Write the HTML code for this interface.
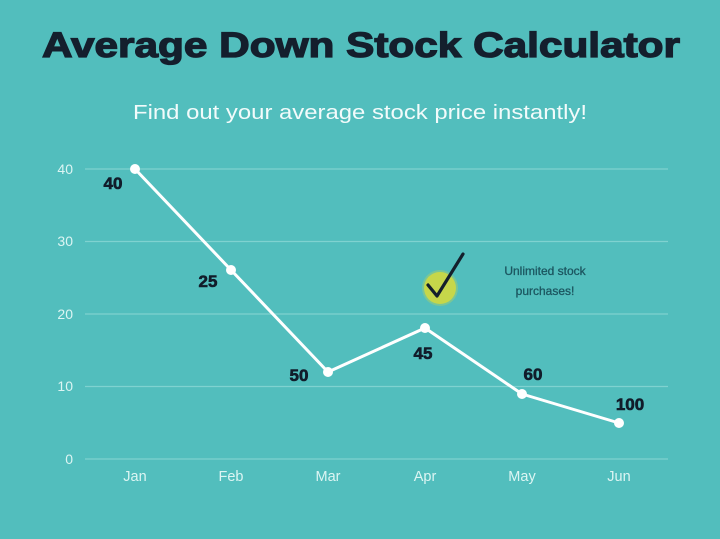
<!DOCTYPE html>
<html><head><meta charset="utf-8">
<style>
html,body{margin:0;padding:0;background:#52bebd;}
svg{display:block;}
</style></head>
<body>
<svg width="720" height="539" viewBox="0 0 720 539" xmlns="http://www.w3.org/2000/svg">
<rect width="720" height="539" fill="#52bebd"/>
<text x="42" y="57" font-family="Liberation Sans, sans-serif" font-weight="bold" font-size="35" fill="#141f2d" stroke="#141f2d" stroke-width="1.3" textLength="638" lengthAdjust="spacingAndGlyphs">Average Down Stock Calculator</text>
<text x="133" y="119" font-family="Liberation Sans, sans-serif" font-size="20" fill="#f2fbfb" textLength="454" lengthAdjust="spacingAndGlyphs">Find out your average stock price instantly!</text>
<g stroke="#7fd2d0" stroke-width="1.2">
<line x1="85" y1="169" x2="668" y2="169"/>
<line x1="85" y1="241.5" x2="668" y2="241.5"/>
<line x1="85" y1="314" x2="668" y2="314"/>
<line x1="85" y1="386.5" x2="668" y2="386.5"/>
<line x1="85" y1="459" x2="668" y2="459"/>
</g>
<g font-family="Liberation Sans, sans-serif" font-size="14" fill="#dcf5f3" text-anchor="end">
<text x="73" y="174">40</text>
<text x="73" y="246">30</text>
<text x="73" y="319">20</text>
<text x="73" y="391">10</text>
<text x="73" y="464">0</text>
</g>
<g font-family="Liberation Sans, sans-serif" font-size="14.5" fill="#dcf5f3" text-anchor="middle">
<text x="135" y="481">Jan</text>
<text x="231" y="481">Feb</text>
<text x="328" y="481">Mar</text>
<text x="425" y="481">Apr</text>
<text x="522" y="481">May</text>
<text x="619" y="481">Jun</text>
</g>
<polyline points="135,169 231,270 328,372 425,328 522,394 619,423" fill="none" stroke="#ffffff" stroke-width="3" stroke-linejoin="round"/>
<g fill="#ffffff">
<circle cx="135" cy="169" r="5"/>
<circle cx="231" cy="270" r="5"/>
<circle cx="328" cy="372" r="5"/>
<circle cx="425" cy="328" r="5"/>
<circle cx="522" cy="394" r="5"/>
<circle cx="619" cy="423" r="5"/>
</g>
<g font-family="Liberation Sans, sans-serif" font-weight="bold" font-size="17" fill="#111c2a" stroke="#111c2a" stroke-width="0.6" text-anchor="middle">
<text x="113" y="189">40</text>
<text x="208" y="287">25</text>
<text x="299" y="381">50</text>
<text x="423" y="359">45</text>
<text x="533" y="380">60</text>
<text x="630" y="410">100</text>
</g>
<circle cx="440" cy="288" r="16" fill="#c6d84a"/>
<circle cx="440" cy="288" r="18" fill="#c6d84a" opacity="0.35"/>
<polyline points="428,285 437,296 463,254" fill="none" stroke="#14202c" stroke-width="3.2" stroke-linecap="round" stroke-linejoin="round"/>
<g font-family="Liberation Sans, sans-serif" font-size="12" fill="#1c5660" stroke="#1c5660" stroke-width="0.3" text-anchor="middle">
<text x="545" y="275">Unlimited stock</text>
<text x="545" y="295">purchases!</text>
</g>
</svg>
</body></html>
